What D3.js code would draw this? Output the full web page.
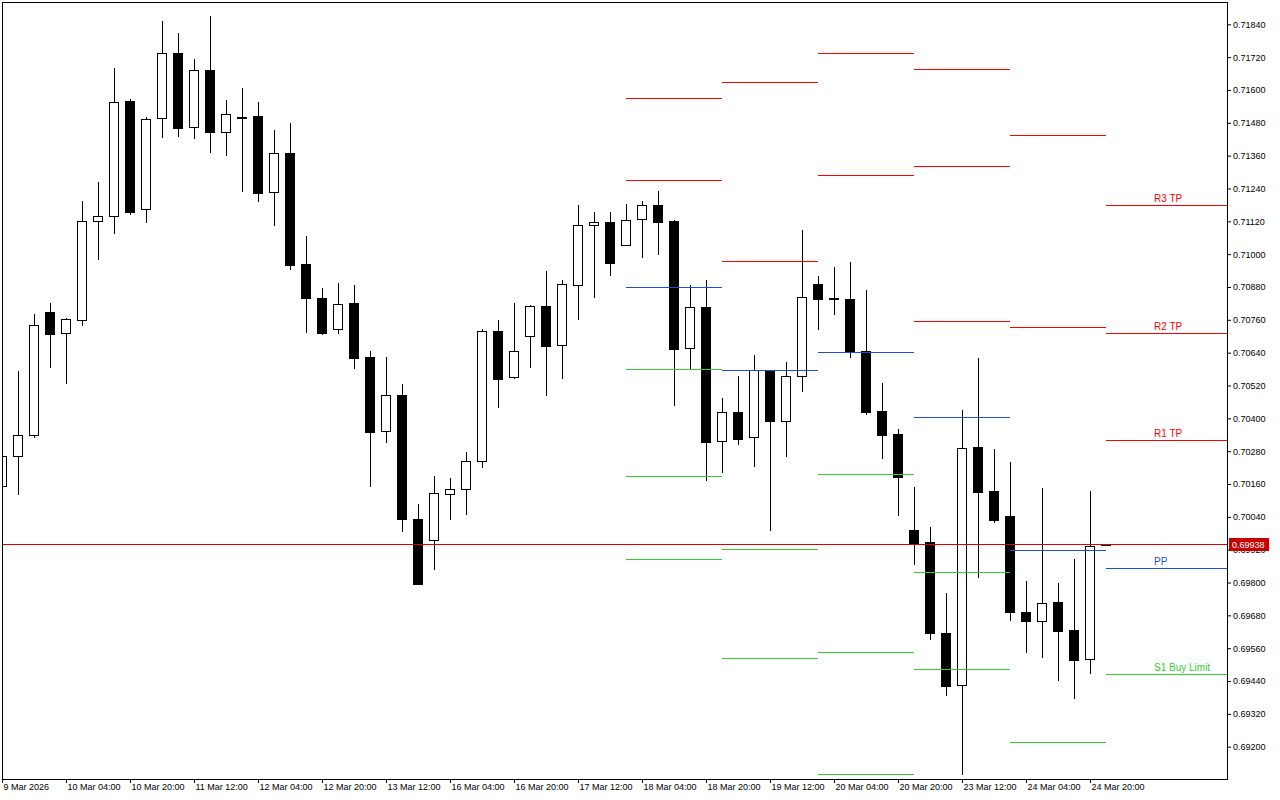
<!DOCTYPE html>
<html>
<head>
<meta charset="utf-8">
<script src="https://cdn.jsdelivr.net/npm/d3@7"></script>
<style>
  html, body { margin: 0; padding: 0; background: #ffffff; }
  svg { display: block; }
  text { font-family: "Liberation Sans", Arial, sans-serif; }
</style>
</head>
<body>
<svg id="chart" width="1280" height="800"></svg>
<script>
// ---------- DATA (H4 candles, 9 Mar 12:00 .. 25 Mar 00:00) ----------
const candleOpen = [
  0.70153,0.70263,0.70340,0.70789,0.70712,0.70760,0.71122,0.71140,0.71560,0.71165,
  0.71498,0.71735,0.71465,0.71673,0.71447,0.71498,0.71505,0.71227,0.71370,0.70964,
  0.70840,0.70727,0.70822,0.70625,0.70354,0.70486,0.70033,0.69956,0.70124,0.70143,
  0.70245,0.70720,0.70552,0.70701,0.70811,0.70669,0.70888,0.71107,0.71118,0.71034,
  0.71129,0.71180,0.71122,0.70658,0.70807,0.70318,0.70424,0.70332,0.70574,0.70391,
  0.70555,0.70891,0.70840,0.70837,0.70647,0.70427,0.70343,0.69993,0.69949,0.69617,
  0.69427,0.70296,0.70135,0.70044,0.69693,0.69660,0.69730,0.69627,0.69521,0.69941
];
const candleHigh = [
  0.70278,0.70574,0.70782,0.70822,0.70766,0.71195,0.71264,0.71680,0.71567,0.71501,
  0.71852,0.71808,0.71713,0.71870,0.71564,0.71607,0.71556,0.71454,0.71480,0.71067,
  0.70877,0.70895,0.70888,0.70647,0.70625,0.70526,0.70088,0.70190,0.70183,0.70278,
  0.70727,0.70760,0.70822,0.70813,0.70939,0.70906,0.71180,0.71154,0.71154,0.71184,
  0.71195,0.71231,0.71126,0.70888,0.70906,0.70475,0.70555,0.70632,0.70577,0.70606,
  0.71089,0.70921,0.70953,0.70972,0.70869,0.70530,0.70362,0.70150,0.70004,0.69763,
  0.70431,0.70621,0.70289,0.70241,0.69806,0.70146,0.69799,0.69887,0.70135,0.69941
];
const candleLow = [
  0.70146,0.70124,0.70332,0.70588,0.70530,0.70742,0.70983,0.71078,0.71147,0.71118,
  0.71428,0.71432,0.71425,0.71374,0.71363,0.71231,0.71195,0.71107,0.70946,0.70716,
  0.70710,0.70711,0.70584,0.70153,0.70314,0.69989,0.69794,0.69850,0.70033,0.70051,
  0.70223,0.70442,0.70548,0.70588,0.70486,0.70548,0.70764,0.70844,0.70924,0.71033,
  0.70990,0.71001,0.70449,0.70581,0.70175,0.70205,0.70307,0.70227,0.69993,0.70263,
  0.70501,0.70727,0.70782,0.70625,0.70417,0.70256,0.70048,0.69869,0.69595,0.69390,
  0.69101,0.69821,0.70022,0.69664,0.69547,0.69529,0.69445,0.69379,0.69470,0.69938
];
const candleClose = [
  0.70263,0.70340,0.70742,0.70709,0.70764,0.71122,0.71140,0.71556,0.71154,0.71494,
  0.71735,0.71461,0.71673,0.71447,0.71512,0.71503,0.71224,0.71370,0.70961,0.70840,
  0.70712,0.70818,0.70621,0.70351,0.70486,0.70033,0.69795,0.70128,0.70143,0.70245,
  0.70720,0.70544,0.70647,0.70811,0.70665,0.70891,0.71107,0.71118,0.70968,0.71125,
  0.71180,0.71118,0.70654,0.70807,0.70314,0.70424,0.70325,0.70577,0.70391,0.70555,
  0.70844,0.70837,0.70835,0.70643,0.70424,0.70340,0.70186,0.69942,0.69617,0.69423,
  0.70292,0.70132,0.70029,0.69693,0.69660,0.69726,0.69624,0.69518,0.69934,0.69938
];

const xTickIndex  = [0,4,8,12,16,20,24,28,32,36,40,44,48,52,56,60,64,68];
const xTickLabels = ["9 Mar 2026","10 Mar 04:00","10 Mar 20:00","11 Mar 12:00","12 Mar 04:00",
  "12 Mar 20:00","13 Mar 12:00","16 Mar 04:00","16 Mar 20:00","17 Mar 12:00","18 Mar 04:00",
  "18 Mar 20:00","19 Mar 12:00","20 Mar 04:00","20 Mar 20:00","23 Mar 12:00","24 Mar 04:00","24 Mar 20:00"];

const yTickValues = [0.69200,0.69320,0.69440,0.69560,0.69680,0.69800,0.69920,0.70040,0.70160,
  0.70280,0.70400,0.70520,0.70640,0.70760,0.70880,0.71000,0.71120,0.71240,0.71360,0.71480,
  0.71600,0.71720,0.71840];

// daily classic pivots: day start candle index (18,19,20,23,24,25 Mar)
const pivotDayStart = [39,45,51,57,63,69];
const pivotR3 = [null,   null,   null,   0.71676,null,   0.71180];
const pivotR2 = [0.71570,0.71628,0.71734,0.71321,0.71435,0.70711];
const pivotR1 = [0.71270,0.70975,0.71288,0.70755,0.70733,0.70322];
const pivotPP = [0.70879,0.70576,0.70642,0.70404,0.69919,0.69853];
const pivotS1 = [0.70580,0.69922,0.70196,0.69838,0.69217,0.69466];
const pivotS2 = [0.70189,0.69524,0.69546,0.69484,null,   null];
const pivotS3 = [0.69886,null,   0.69100,null,   null,   null];
const pivotNames = ["R3","R2","R1","PP","S1","S2","S3"];
const lastDayLabels = {R3:"R3 TP", R2:"R2 TP", R1:"R1 TP", PP:"PP", S1:"S1 Buy Limit"};

const bidPrice = 0.69938;

// ---------- LAYOUT ----------
const W = 1280, H = 800;
const plotL = 2, plotT = 2, plotR = 1227, plotB = 779;
const colRed = "#ff0000", colBlue = "#1c4fd8", colGreen = "#32cd32";

const svg = d3.select("#chart");
svg.append("rect").attr("width", W).attr("height", H).attr("fill", "#fff");

const x = d3.scalePoint().domain(d3.range(candleOpen.length)).range([2, 2 + 16 * (candleOpen.length - 1)]);
const y = d3.scaleLinear().domain([0.69200, 0.71840]).range([746.7, 24.3]);

svg.append("clipPath").attr("id", "plotclip")
  .append("rect").attr("x", plotL + 1).attr("y", plotT + 1)
  .attr("width", plotR - plotL - 1).attr("height", plotB - plotT - 1);

const plot = svg.append("g").attr("clip-path", "url(#plotclip)");

// candles
const candles = d3.range(candleOpen.length).map(i => ({
  i, o: candleOpen[i], h: candleHigh[i], l: candleLow[i], c: candleClose[i]
}));
const snap = v => Math.round(v) + 0.5;

const cg = plot.append("g");
cg.selectAll("line.wick").data(candles).enter().append("line")
  .attr("class", "wick")
  .attr("x1", d => x(d.i) + 0.5).attr("x2", d => x(d.i) + 0.5)
  .attr("y1", d => snap(y(d.h)) - 0.5).attr("y2", d => snap(y(d.l)) + 0.5)
  .attr("stroke", "#000").attr("stroke-width", 1);

cg.selectAll("rect.body").data(candles).enter().append("rect")
  .attr("class", "body")
  .attr("x", d => x(d.i) - 4.5)
  .attr("width", 9)
  .attr("y", d => snap(y(Math.max(d.o, d.c))))
  .attr("height", d => Math.max(1, snap(y(Math.min(d.o, d.c))) - snap(y(Math.max(d.o, d.c)))))
  .attr("fill", d => d.c >= d.o ? "#fff" : "#000")
  .attr("stroke", "#000").attr("stroke-width", 1);

// pivot segments
const pivotSets = [pivotR3, pivotR2, pivotR1, pivotPP, pivotS1, pivotS2, pivotS3];
const segs = [];
pivotSets.forEach((arr, k) => {
  const name = pivotNames[k];
  arr.forEach((v, d) => {
    if (v == null) return;
    const x1 = x(pivotDayStart[d]);
    const x2 = d < pivotDayStart.length - 1 ? x(pivotDayStart[d + 1]) : plotR;
    const col = name[0] === "R" ? colRed : (name === "PP" ? colBlue : colGreen);
    segs.push({ name, v, x1, x2, col, last: d === pivotDayStart.length - 1 });
  });
});
plot.selectAll("line.pivot").data(segs).enter().append("line")
  .attr("class", "pivot")
  .attr("x1", d => d.x1).attr("x2", d => d.x2)
  .attr("y1", d => snap(y(d.v))).attr("y2", d => snap(y(d.v)))
  .attr("stroke", d => d.col).attr("stroke-width", 1);

plot.selectAll("text.plabel").data(segs.filter(d => d.last && lastDayLabels[d.name])).enter()
  .append("text").attr("class", "plabel")
  .attr("x", 1154).attr("y", d => Math.round(y(d.v)) - 3)
  .attr("font-size", "10px").attr("fill", d => d.col)
  .text(d => lastDayLabels[d.name]);

// bid line
const bidY = Math.floor(y(bidPrice)) + 0.5;
plot.append("line")
  .attr("x1", plotL).attr("x2", plotR)
  .attr("y1", bidY).attr("y2", bidY)
  .attr("stroke", "#e00000").attr("stroke-width", 1);

// axes
const yAxis = d3.axisRight(y).tickValues(yTickValues).tickSize(4).tickPadding(2)
  .tickFormat(d => d.toFixed(5));
const gy = svg.append("g").attr("transform", `translate(${plotR},0)`).call(yAxis);
gy.select(".domain").remove();
gy.selectAll("text").attr("font-size", "9px").attr("font-family", "Liberation Sans, Arial, sans-serif").attr("fill", "#000");
gy.selectAll("line").attr("stroke", "#000");

const xAxis = d3.axisBottom(x).tickValues(xTickIndex).tickSize(4)
  .tickFormat(d => xTickLabels[xTickIndex.indexOf(d)]);
const gx = svg.append("g").attr("transform", `translate(0,${plotB})`).call(xAxis);
gx.select(".domain").remove();
gx.selectAll("text").attr("font-size", "9px").attr("font-family", "Liberation Sans, Arial, sans-serif")
  .attr("text-anchor", "start").attr("x", 1).attr("y", 5).attr("fill", "#000");
gx.selectAll("line").attr("stroke", "#000");

// price label on right axis
svg.append("rect").attr("x", 1229).attr("y", bidY - 6.5).attr("width", 40).attr("height", 13)
  .attr("fill", "#c80000");
svg.append("text").attr("x", 1232).attr("y", bidY + 3.5)
  .attr("font-size", "9px").attr("fill", "#fff").text(bidPrice.toFixed(5));

// plot border
svg.append("rect").attr("x", plotL + 0.5).attr("y", plotT + 0.5)
  .attr("width", plotR - plotL).attr("height", plotB - plotT)
  .attr("fill", "none").attr("stroke", "#000").attr("stroke-width", 1);
</script>
</body>
</html>
